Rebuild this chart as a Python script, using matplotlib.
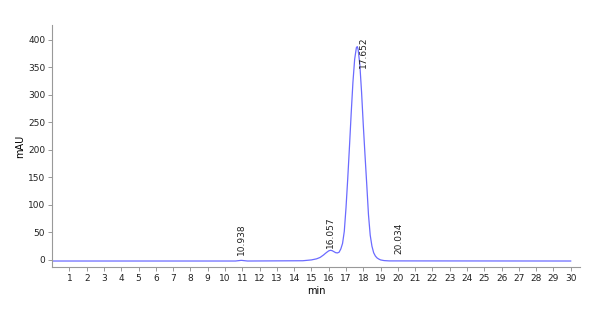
import matplotlib.pyplot as plt

# chromatogram trace (min, mAU)
time_min = [0.0, 10.6, 10.94, 11.3, 14.5, 15.0, 15.3, 15.5, 15.7, 15.85,
            16.0, 16.1, 16.2, 16.3, 16.4, 16.5, 16.6, 16.7, 16.8, 16.9,
            17.0, 17.1, 17.2, 17.3, 17.4, 17.5, 17.6, 17.65, 17.7, 17.8,
            17.9, 18.0, 18.1, 18.2, 18.3, 18.4, 18.5, 18.6, 18.7, 18.8,
            18.9, 19.0, 19.2, 19.5, 20.03, 30.0]
signal_mau = [-2.0, -2.0, -0.8, -2.0, -1.5, 0.0, 2.0, 4.5, 9.0, 13.0,
              16.5, 17.5, 16.8, 15.0, 13.2, 12.7, 14.0, 20.0, 30.0, 52.0,
              95.0, 148.0, 206.0, 267.0, 323.0, 365.0, 386.0, 388.0, 383.0, 355.0,
              305.0, 245.0, 190.0, 137.0, 82.0, 45.0, 25.0, 13.0, 7.0, 3.5,
              1.5, 0.0, -1.2, -1.8, -1.8, -2.0]

# peak labels: retention time and where the label sits
peak_labels = ["10.938", "16.057", "17.652", "20.034"]
label_x = [10.94, 16.09, 17.99, 20.07]
label_y = [8.5, 21.0, 349.0, 10.0]


def plot():
    fig = plt.figure(figsize=(6.0, 3.14), dpi=100)
    ax = fig.add_axes([0.087, 0.15, 0.88, 0.77])
    ax.plot(time_min, signal_mau, color="#6b6bff", linewidth=0.9)

    for text, x, y in zip(peak_labels, label_x, label_y):
        ax.text(x, y, text, rotation=90, ha="center", va="bottom",
                fontsize=6.5, color="#222222")

    ax.set_xlim(0, 30.55)
    ax.set_ylim(-12.7, 427)
    ax.set_xticks(range(1, 31))
    ax.set_yticks(range(0, 401, 50))
    ax.set_xlabel("min", fontsize=7, labelpad=2)
    ax.set_ylabel("mAU", fontsize=7, labelpad=2)

    for side in ["top", "right"]:
        ax.spines[side].set_visible(False)
    for side in ["left", "bottom"]:
        ax.spines[side].set_color("#999999")
        ax.spines[side].set_linewidth(0.8)
    ax.tick_params(axis="both", labelsize=6.5, length=3, width=0.7,
                   color="#999999", labelcolor="#222222", pad=2)

    fig.savefig("out.png")


plot()
